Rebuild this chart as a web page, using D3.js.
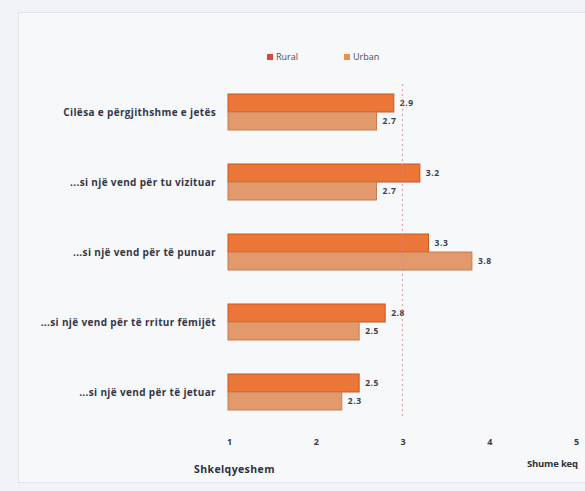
<!DOCTYPE html>
<html><head><meta charset="utf-8">
<script src="https://cdn.jsdelivr.net/npm/d3@7/dist/d3.min.js"></script>
<style>
html,body{margin:0;padding:0;background:#f1f3f6;}
svg{display:block;font-family:"Open Sans","Noto Sans",sans-serif;}
</style></head><body>
<svg id="c" width="585" height="491"></svg>
<script>
const categories = ["Cilësa e përgjithshme e jetës","...si një vend për tu vizituar","...si një vend për të punuar","...si një vend për të rritur fëmijët","...si një vend për të jetuar"];
const series = ["Rural","Urban"];
const rural = [2.9,3.2,3.3,2.8,2.5];
const urban = [2.7,2.7,3.8,2.5,2.3];
const ticks = [1,2,3,4,5];
const refValue = 3;
const leftLabel = "Shkelqyeshem";
const rightLabel = "Shume keq";

const svg = d3.select("#c");
svg.append("rect").attr("x",0).attr("y",0).attr("width",585).attr("height",491).attr("fill","#f1f3f6");
svg.append("rect").attr("x",18.5).attr("y",12.5).attr("width",580).attr("height",470)
  .attr("fill","#f6f8fa").attr("stroke","#e2e5ea");

const x = d3.scaleLinear().domain([1,5]).range([229,576]);
const y0 = d3.scaleBand().domain(categories).range([77,427]).paddingInner(0.486).paddingOuter(0.243);
const y1 = d3.scaleBand().domain(series).range([0,y0.bandwidth()]);
const fill = {Rural:"#eb7638", Urban:"#e29a6c"};
const stroke = {Rural:"#c9571f", Urban:"#c87a4c"};
const legendFill = {Rural:"#d9473f", Urban:"#e8904c"};

const data = categories.map((c,i)=>({c, vals:[{s:"Rural",v:rural[i]},{s:"Urban",v:urban[i]}]}));
const g = svg.append("g");
const grp = g.selectAll("g.grp").data(data).join("g").attr("transform",d=>`translate(0,${y0(d.c)})`);
grp.selectAll("rect").data(d=>d.vals).join("rect")
  .attr("x",x(1)-1).attr("y",d=>y1(d.s)).attr("width",d=>x(d.v)-x(1)+1).attr("height",y1.bandwidth())
  .attr("fill",d=>fill[d.s]).attr("stroke",d=>stroke[d.s]).attr("stroke-width",1);

// reference line
svg.append("line").attr("x1",x(refValue)).attr("x2",x(refValue)).attr("y1",84).attr("y2",418)
  .attr("stroke","#e07f8c").attr("stroke-opacity",0.7).attr("stroke-width",1.2).attr("stroke-dasharray","2,3");

grp.selectAll("text.v").data(d=>d.vals).join("text").attr("class","v")
  .attr("x",d=>x(d.v)+6).attr("y",d=>y1(d.s)+y1.bandwidth()/2).attr("dy","0.35em")
  .attr("font-size",8.5).attr("font-weight","bold").attr("fill","#3b3d4a").attr("letter-spacing",0.6).text(d=>d.v.toFixed(1));

// category labels
svg.selectAll("text.cat").data(categories).join("text").attr("class","cat")
  .attr("x",216).attr("y",d=>y0(d)+y0.bandwidth()/2).attr("dy","0.35em").attr("text-anchor","end")
  .attr("font-size",10).attr("font-weight","bold").attr("fill","#353746").attr("letter-spacing",0.35).text(d=>d);

// x axis
const ax = svg.append("g").attr("transform","translate(0,436)")
  .call(d3.axisBottom(x).tickValues(ticks).tickSize(0).tickFormat(d3.format("d")));
ax.select(".domain").remove();
ax.selectAll("text").attr("font-size",9).attr("font-weight","bold").attr("fill","#3b3d4a").attr("font-family","Open Sans, sans-serif");

svg.append("text").attr("x",194).attr("y",473).attr("font-size",10.5).attr("font-weight","bold")
  .attr("fill","#2e3040").attr("letter-spacing",0.4).text(leftLabel);
svg.append("text").attr("x",527).attr("y",467).attr("font-size",9.5).attr("font-weight","bold")
  .attr("fill","#2e3040").attr("letter-spacing",-0.2).text(rightLabel);

// legend
const lg = svg.append("g").attr("transform","translate(267,57)");
const li = lg.selectAll("g").data(series).join("g").attr("transform",(d,i)=>`translate(${i*77},0)`);
li.append("rect").attr("x",0).attr("y",-3).attr("width",6).attr("height",6).attr("fill",d=>legendFill[d]);
li.append("text").attr("x",9).attr("y",0).attr("dy","0.35em").attr("font-size",9)
  .attr("fill","#4a4c5a").text(d=>d);
</script>
</body></html>
